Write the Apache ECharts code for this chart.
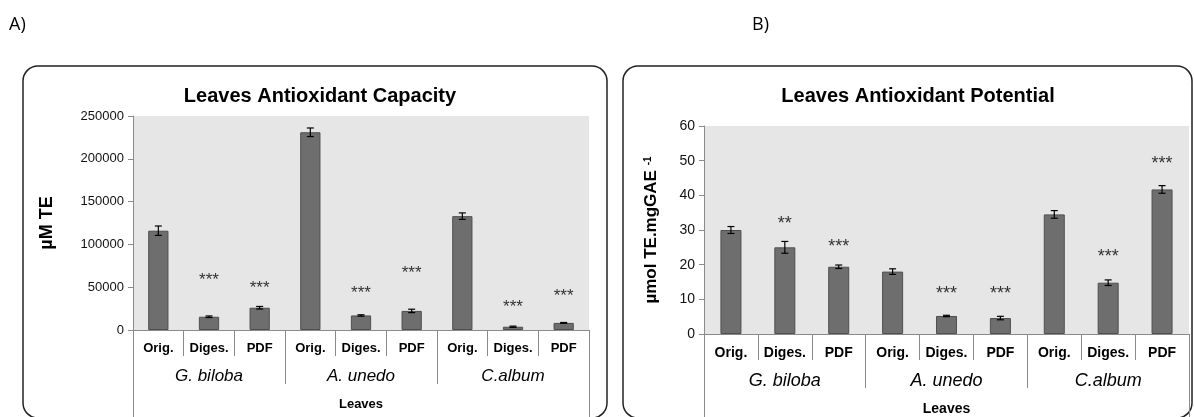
<!DOCTYPE html>
<html>
<head>
<meta charset="utf-8">
<script src="https://cdn.jsdelivr.net/npm/echarts@6/dist/echarts.min.js"></script>
<style>html,body{margin:0;padding:0;background:#fff}#c{width:1194px;height:417px}</style>
</head>
<body>
<div id="c"></div>
<script>
// ---- data ----
const categories = ['Orig.', 'Diges.', 'PDF', 'Orig.', 'Diges.', 'PDF', 'Orig.', 'Diges.', 'PDF'];
const groups = ['G. biloba', 'A. unedo', 'C.album'];
const outerCategory = ['Leaves'];

const capacityValues = [116000, 15500, 26000, 231000, 17000, 22300, 133000, 3800, 8300];
const capacityErrors = [5500, 900, 1500, 5000, 800, 2000, 3800, 700, 500];
const capacityStars = ['', '***', '***', '', '***', '***', '', '***', '***'];
const capacityStarY = [null, 63000, 53000, null, 48000, 71000, null, 31500, 44000];
const capacityTicks = [0, 50000, 100000, 150000, 200000, 250000];

const potentialValues = [30, 25, 19.4, 18, 5.2, 4.6, 34.5, 14.8, 41.7];
const potentialErrors = [1, 1.7, 0.5, 0.8, 0.2, 0.5, 1.1, 0.8, 1.1];
const potentialStars = ['', '**', '***', '', '***', '***', '', '***', '***'];
const potentialStarY = [null, 32.8, 26.3, null, 12.8, 12.8, null, 23.5, 50.3];
const potentialTicks = [0, 10, 20, 30, 40, 50, 60];

// ---- helpers ----
const FONT = 'Liberation Sans, Arial, sans-serif';
const GREY = '#8a8a8a';

function errData(vals, errs) {
  return vals.map((v, i) => [i, v - errs[i], v + errs[i]]);
}
function starData(ys) {
  return ys.map((y, i) => (y == null ? '-' : [i, y]));
}
function renderErr(params, api) {
  const x = api.value(0);
  const lo = api.coord([x, api.value(1)]);
  const hi = api.coord([x, api.value(2)]);
  const h = 3.5;
  const st = { stroke: '#000', lineWidth: 1.2 };
  return {
    type: 'group',
    children: [
      { type: 'line', shape: { x1: lo[0], y1: lo[1], x2: hi[0], y2: hi[1] }, style: st },
      { type: 'line', shape: { x1: lo[0] - h, y1: lo[1], x2: lo[0] + h, y2: lo[1] }, style: st },
      { type: 'line', shape: { x1: hi[0] - h, y1: hi[1], x2: hi[0] + h, y2: hi[1] }, style: st }
    ]
  };
}

function xAxes(gridIndex, s) {
  return [
    {
      type: 'category', gridIndex, data: categories, position: 'bottom',
      axisLine: { show: true, lineStyle: { color: GREY, width: 1 } },
      axisTick: { show: true, interval: 0, length: 26, lineStyle: { color: GREY } },
      axisLabel: { interval: 0, margin: 12, fontSize: s.cat, fontWeight: 'bold', color: '#000', fontFamily: FONT }
    },
    {
      type: 'category', gridIndex, data: groups, position: 'bottom',
      axisLine: { show: false },
      axisTick: { show: true, interval: 0, length: 54, lineStyle: { color: GREY } },
      axisLabel: { interval: 0, margin: 38, fontSize: s.grp, fontStyle: 'italic', color: '#000', fontFamily: FONT }
    },
    {
      type: 'category', gridIndex, data: outerCategory, position: 'bottom',
      axisLine: { show: false },
      axisTick: { show: true, interval: 0, length: 95, lineStyle: { color: GREY } },
      axisLabel: { interval: 0, margin: 68, fontSize: s.leaves, fontWeight: 'bold', color: '#000', fontFamily: FONT }
    }
  ];
}

function yAxis(gridIndex, ticks, name, gap, fs) {
  return {
    type: 'value', gridIndex,
    min: ticks[0], max: ticks[ticks.length - 1], interval: ticks[1] - ticks[0],
    name, nameLocation: 'middle', nameGap: gap, nameRotate: 90,
    nameTextStyle: {
      fontSize: 18, fontWeight: 'bold', color: '#000', fontFamily: FONT,
      rich: {
        a: { fontSize: 17, fontWeight: 'bold', color: '#000', fontFamily: FONT },
        sup: { fontSize: 10, fontWeight: 'bold', color: '#000', fontFamily: FONT, verticalAlign: 'top', padding: [0, 0, 7, 0] }
      }
    },
    axisLine: { show: true, lineStyle: { color: GREY } },
    axisTick: { show: true, length: 5, lineStyle: { color: GREY } },
    splitLine: { show: false },
    axisLabel: { fontSize: fs, color: '#111', fontFamily: FONT, margin: 9, formatter: v => String(v) }
  };
}

function seriesFor(idx, vals, errs, stars, starYs, barW, starFs) {
  return [
    {
      type: 'bar', xAxisIndex: idx * 3, yAxisIndex: idx, data: vals, barWidth: barW,
      itemStyle: { color: '#6e6e6e', borderColor: '#4f4f4f', borderWidth: 1 },
      silent: true, z: 2
    },
    {
      type: 'custom', xAxisIndex: idx * 3, yAxisIndex: idx, data: errData(vals, errs),
      renderItem: renderErr, encode: { x: 0, y: [1, 2] }, silent: true, z: 3
    },
    {
      type: 'scatter', xAxisIndex: idx * 3, yAxisIndex: idx, data: starData(starYs),
      symbolSize: 1, itemStyle: { color: 'rgba(0,0,0,0)' }, silent: true, z: 4,
      label: {
        show: true, position: 'inside', offset: [0, 4],
        formatter: p => stars[p.value[0]],
        fontSize: starFs, color: '#000', fontFamily: FONT
      }
    }
  ];
}

const chart = echarts.init(document.getElementById('c'), null, { renderer: 'canvas' });
chart.setOption({
  backgroundColor: '#fff',
  animation: false,
  graphic: [
    { type: 'rect', shape: { x: 23, y: 66, width: 584, height: 352, r: 15 }, style: { fill: 'none', stroke: '#222', lineWidth: 1.5 }, z: -10, silent: true },
    { type: 'rect', shape: { x: 623, y: 66, width: 569, height: 352, r: 15 }, style: { fill: 'none', stroke: '#222', lineWidth: 1.5 }, z: -10, silent: true },
    { type: 'text', left: 9, top: 16, style: { text: 'A)', fontSize: 18, fill: '#000', fontFamily: 'Open Sans, Liberation Sans, sans-serif' }, silent: true },
    { type: 'text', left: 752, top: 16, style: { text: 'B)', fontSize: 18, fill: '#000', fontFamily: 'Open Sans, Liberation Sans, sans-serif' }, silent: true }
  ],
  title: [
    { text: 'Leaves Antioxidant Capacity', left: 315, top: 81, textAlign: 'center',
      textStyle: { fontSize: 20, fontWeight: 'bold', color: '#000', fontFamily: FONT } },
    { text: 'Leaves Antioxidant Potential', left: 913, top: 81, textAlign: 'center',
      textStyle: { fontSize: 20, fontWeight: 'bold', color: '#000', fontFamily: FONT } }
  ],
  grid: [
    { left: 133, top: 116, right: 605, bottom: 87, show: true, backgroundColor: '#e6e6e6', borderWidth: 0 },
    { left: 704, top: 126, right: 5, bottom: 83, show: true, backgroundColor: '#e6e6e6', borderWidth: 0 }
  ],
  xAxis: [].concat(xAxes(0, { cat: 13, grp: 17, leaves: 13 }), xAxes(1, { cat: 14, grp: 18, leaves: 14 })),
  yAxis: [
    yAxis(0, capacityTicks, 'µM TE', 77, 13),
    yAxis(1, potentialTicks, '{a|µmol TE.mgGAE }{sup|-1}', 44, 14)
  ],
  series: [].concat(
    seriesFor(0, capacityValues, capacityErrors, capacityStars, capacityStarY, '40%', 17),
    seriesFor(1, potentialValues, potentialErrors, potentialStars, potentialStarY, '39%', 18)
  )
});
</script>
</body>
</html>
